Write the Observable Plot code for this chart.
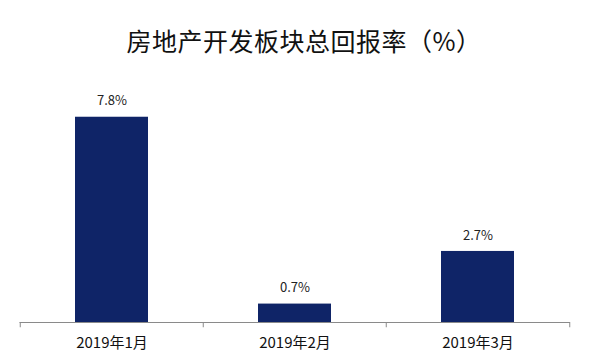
<!DOCTYPE html>
<html><head><meta charset="utf-8">
<script src="https://cdn.jsdelivr.net/npm/d3@7"></script>
<script src="https://cdn.jsdelivr.net/npm/@observablehq/plot@0.6"></script>
<style>
body{margin:0;background:#fff;font-family:"Noto Sans CJK SC","Noto Sans",sans-serif;}
#title{height:72px;line-height:80px;text-align:center;font-size:25px;color:#111;letter-spacing:0.5px;padding-left:12px;box-sizing:border-box;width:596px;}
</style></head>
<body>
<div id="title">房地产开发板块总回报率（%）</div>
<div id="chart"></div>
<script>
const months = ["2019年1月", "2019年2月", "2019年3月"];
const returns = [7.8, 0.7, 2.7];
const valueLabels = ["7.8%", "0.7%", "2.7%"];

const data = months.map((m, i) => ({month: m, value: returns[i], label: valueLabels[i]}));
const W = 596, H = 286, mL = 19.5, mR = 26, mT = 10, mB = 36;
const step = (W - mL - mR) / months.length;
const edges = months.map((m, i) => ({month: m, dx: -step / 2})).concat([{month: months[months.length - 1], dx: step / 2}]);

const chart = Plot.plot({
  width: W, height: H,
  marginLeft: mL, marginRight: mR, marginTop: mT, marginBottom: mB,
  style: {fontFamily: '"Noto Sans CJK SC","Noto Sans",sans-serif', background: "#fff"},
  x: {domain: months, paddingInner: 0.6, paddingOuter: 0.3, label: null, tickSize: 0, tickPadding: 15},
  y: {domain: [0, 9.12], axis: null},
  marks: [
    Plot.barY(data, {x: "month", y: "value", fill: "#0f2467"}),
    Plot.ruleY([0], {stroke: "#8a8a8a", strokeWidth: 1}),
    ...edges.map(e => Plot.ruleX([e], {x: "month", dx: e.dx, y1: 0, y2: -0.2, stroke: "#8a8a8a", strokeWidth: 1})),
    Plot.text(data, {x: "month", y: "value", text: "label", dy: -16, fontSize: 13, fill: "#222", letterSpacing: 2}),
    Plot.axisX({tickSize: 0, tickPadding: 15, fontSize: 15, fill: "#111", label: null})
  ]
});
document.getElementById("chart").appendChild(chart);
</script>
</body></html>
